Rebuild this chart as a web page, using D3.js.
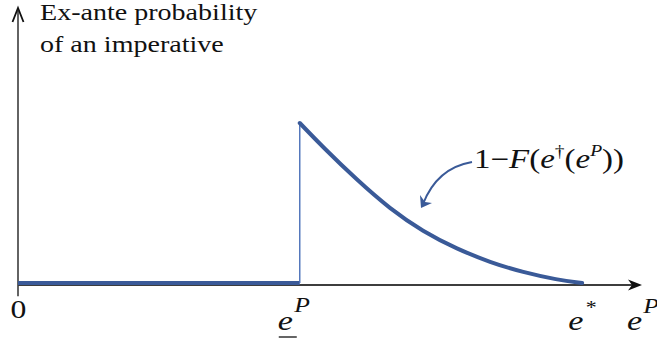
<html>
<head>
  <title>Ex-ante probability</title>
  <script src="https://cdnjs.cloudflare.com/ajax/libs/d3/7.8.5/d3.min.js"></script>
</head>
<body style="margin:0;background:#fff">
<script>
// values (x in e^P units, y in probability units)
var eLow = 4.53, eStar = 9.07, xEnd = 10.0, yTop = 1.71;
var baseX = [0, eLow];
var baseY = [0.012, 0.012];
var curveX = [4.53, 4.90, 5.45, 5.98, 6.51, 7.06, 7.59, 8.12, 8.67, 9.07];
var curveY = [1.00, 0.852, 0.648, 0.470, 0.330, 0.222, 0.140, 0.078, 0.032, 0.012];
var tickVals = [0, eLow, eStar];
var yLabel = ["Ex-ante probability", "of an imperative"];

var FONT = "\"Liberation Serif\"";
var SX = 1.22; // the original text is a little wide

var svg = d3.select("body").append("svg")
  .attr("width", 657)
  .attr("height", 345);

var x = d3.scaleLinear().domain([0, xEnd]).range([18, 640]);
var y = d3.scaleLinear().domain([0, 1]).range([285, 123]);

var blue = "#3a5a98";
var axisCol = "#3d3d3d";

function label(px, py, size) {
  return svg.append("text")
    .attr("transform", "translate(" + px + "," + py + ") scale(" + SX + ",1)")
    .style("font-family", FONT)
    .attr("font-size", size)
    .attr("fill", "#111");
}
function span(t, txt, size, italic) {
  var s = t.append("tspan").style("font-family", FONT).attr("font-size", size).text(txt);
  if (italic) s.attr("font-style", "italic");
  return s;
}

// axes
svg.append("line")
  .attr("x1", x(0)).attr("y1", y(-0.07))
  .attr("x2", x(0)).attr("y2", y(yTop) + 3)
  .attr("stroke", axisCol).attr("stroke-width", 1.6);
svg.append("path")
  .attr("d", "M" + (x(0) - 5.5) + "," + (y(yTop) + 14) + "L" + x(0) + "," + y(yTop) + "L" + (x(0) + 5.5) + "," + (y(yTop) + 14))
  .attr("fill", "none").attr("stroke", "#111").attr("stroke-width", 1.8);

svg.append("line")
  .attr("x1", x(0)).attr("y1", y(0))
  .attr("x2", x(xEnd) - 4).attr("y2", y(0))
  .attr("stroke", axisCol).attr("stroke-width", 1.8);
var ax = x(xEnd) + 2, ay = y(0);
svg.append("path")
  .attr("d", "M" + ax + "," + ay + "L" + (ax - 14) + "," + (ay - 5.5) + "L" + (ax - 10) + "," + ay + "L" + (ax - 14) + "," + (ay + 5.5) + "Z")
  .attr("fill", "#111");

// baseline segment
var line = d3.line().x(function(d){ return x(d[0]); }).y(function(d){ return y(d[1]); });
svg.append("path")
  .attr("d", line(d3.zip(baseX, baseY)))
  .attr("fill", "none").attr("stroke", blue).attr("stroke-width", 4);

// jump
svg.append("line")
  .attr("x1", x(eLow)).attr("y1", y(baseY[1]))
  .attr("x2", x(eLow)).attr("y2", y(curveY[0]))
  .attr("stroke", "#4a6fb8").attr("stroke-width", 1.4);

// decreasing curve
svg.append("path")
  .attr("d", line.curve(d3.curveBasis)(d3.zip(curveX, curveY)))
  .attr("fill", "none").attr("stroke", blue).attr("stroke-width", 4)
  .attr("stroke-linecap", "round");

// y label
yLabel.forEach(function(d, i){
  label(40, 20 + i * 32, 23).text(d);
});

// tick labels
label(x(tickVals[0]) - 7.5, 318, 26).text("0");

var t1 = label(x(tickVals[1]) - 22, 330, 28);
span(t1, "e", 28, true);
span(t1, "P", 21, true).attr("dy", -18).attr("dx", 1);
svg.append("line")
  .attr("x1", x(tickVals[1]) - 21).attr("x2", x(tickVals[1]) - 3)
  .attr("y1", 337).attr("y2", 337)
  .attr("stroke", "#111").attr("stroke-width", 1.3);

var t2 = label(x(tickVals[2]) - 14, 330, 28);
span(t2, "e", 28, true);
span(t2, "*", 18, false).attr("dy", -16).attr("dx", 2);

var t3 = label(627, 330, 28);
span(t3, "e", 28, true);
span(t3, "P", 21, true).attr("dy", -17).attr("dx", 1);

// annotation
var ann = label(474, 168, 27);
span(ann, "1\u2212", 27, false);
span(ann, "F", 27, true);
span(ann, "(", 27, false);
span(ann, "e", 27, true);
span(ann, "\u2020", 16, false).attr("dy", -11);
span(ann, "(", 27, false).attr("dy", 11);
span(ann, "e", 27, true);
span(ann, "P", 16, true).attr("dy", -12);
span(ann, "))", 27, false).attr("dy", 12);

var tipX = 421, tipY = 208;
svg.append("path")
  .attr("d", "M472,162 Q437,168 " + (tipX + 2) + "," + (tipY - 4))
  .attr("fill", "none").attr("stroke", blue).attr("stroke-width", 2);
svg.append("path")
  .attr("d", "M" + tipX + "," + tipY + "L" + (tipX - 1) + "," + (tipY - 13) + "L" + (tipX + 4) + "," + (tipY - 6) + "L" + (tipX + 11) + "," + (tipY - 5) + "Z")
  .attr("fill", blue);
</script>
</body>
</html>
